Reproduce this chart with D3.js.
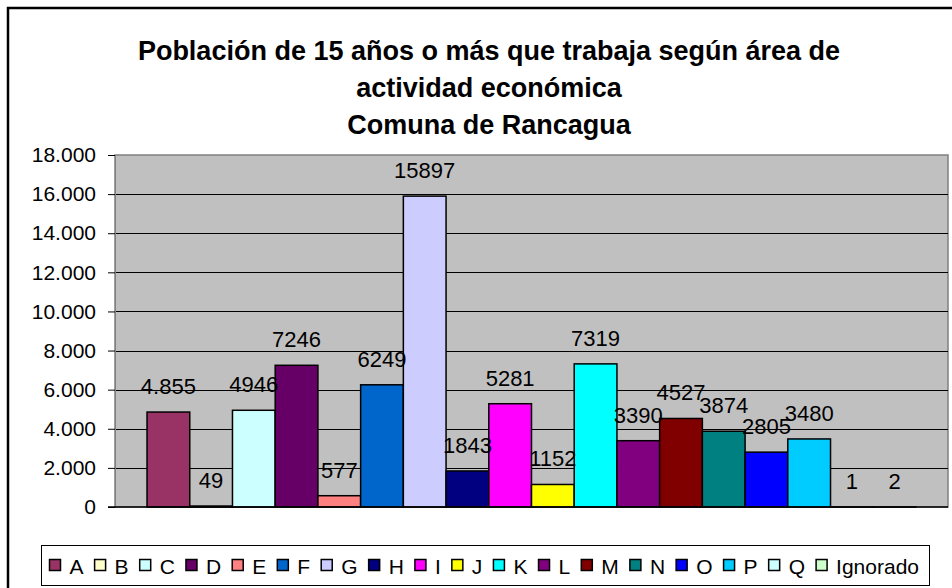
<!DOCTYPE html>
<html>
<head>
<meta charset="utf-8">
<script src="https://cdn.jsdelivr.net/npm/d3@7"></script>
<style>
  body { margin: 0; background: #fff; }
  svg { display: block; font-family: "Liberation Sans", Arial, sans-serif; }
</style>
</head>
<body>
<svg class="chart" width="952" height="588"></svg>
<script>
// areas of economic activity (one bar each)
const areas = ["A", "B", "C", "D", "E", "F", "G", "H", "I", "J", "K", "L", "M", "N", "O", "P", "Q", "Ignorado"];
const workers = [4855, 49, 4946, 7246, 577, 6249, 15897, 1843, 5281, 1152, 7319, 3390, 4527, 3874, 2805, 3480, 1, 2];
const dataLabels = ["4.855", "49", "4946", "7246", "577", "6249", "15897", "1843", "5281", "1152", "7319", "3390", "4527", "3874", "2805", "3480", "1", "2"];
const areaColors = ["#993366", "#FFFFCC", "#CCFFFF", "#660066", "#FF8080", "#0066CC", "#CCCCFF", "#000080", "#FF00FF",
  "#FFFF00", "#00FFFF", "#800080", "#800000", "#008080", "#0000FF", "#00CCFF", "#CCFFFF", "#CCFFCC"];
const yTicks = [0, 2000, 4000, 6000, 8000, 10000, 12000, 14000, 16000, 18000];
const titleLines = ["Población de 15 años o más que trabaja según área de", "actividad económica", "Comuna de Rancagua"];

const svg = d3.select("svg.chart");
const plot = { left: 115, right: 948, top: 155, bottom: 507 };

const esCL = d3.formatLocale({ decimal: ",", thousands: ".", grouping: [3], currency: ["$", ""] });
const tickFormat = esCL.format(",d");

const x = d3.scaleBand().domain(areas).range([plot.left, plot.right]).paddingInner(0).paddingOuter(0.75);
const y = d3.scaleLinear().domain([0, 18000]).range([plot.bottom, plot.top]);

// outer chart frame (right and bottom run off the picture)
svg.append("path")
  .attr("d", "M8,600 V8 H960")
  .attr("fill", "none")
  .attr("stroke", "#000")
  .attr("stroke-width", 2.5);

// title
svg.append("g")
  .selectAll("text")
  .data(titleLines)
  .enter()
  .append("text")
  .attr("x", 489)
  .attr("y", (d, i) => 60 + i * 37)
  .attr("text-anchor", "middle")
  .attr("font-size", 27)
  .attr("font-weight", "bold")
  .text((d) => d);

// plot background
svg.append("rect")
  .attr("x", plot.left)
  .attr("y", plot.top)
  .attr("width", plot.right - plot.left)
  .attr("height", plot.bottom - plot.top)
  .attr("fill", "#C0C0C0")
  .attr("stroke", "#808080")
  .attr("stroke-width", 1.5);

// gridlines
svg.append("g")
  .selectAll("line")
  .data(yTicks.filter((t) => t > 0 && t < 18000))
  .enter()
  .append("line")
  .attr("x1", plot.left)
  .attr("x2", plot.right)
  .attr("y1", (d) => Math.round(y(d)) + 0.5)
  .attr("y2", (d) => Math.round(y(d)) + 0.5)
  .attr("stroke", "#000")
  .attr("stroke-width", 1);

// y axis
const yAxis = svg.append("g")
  .attr("transform", `translate(${plot.left},0)`)
  .call(d3.axisLeft(y).tickValues(yTicks).tickFormat(tickFormat).tickSizeOuter(0).tickSize(7).tickPadding(12));
yAxis.select(".domain").attr("stroke", "#808080");
yAxis.selectAll(".tick line").attr("stroke", "#000");
yAxis.selectAll("text").attr("font-size", 21).attr("fill", "#000").attr("font-family", "Liberation Sans, Arial, sans-serif");

// bars
svg.append("g")
  .selectAll("rect")
  .data(workers)
  .enter()
  .append("rect")
  .attr("x", (d, i) => x(areas[i]))
  .attr("y", (d) => y(d))
  .attr("width", x.bandwidth())
  .attr("height", (d) => plot.bottom - y(d))
  .attr("fill", (d, i) => areaColors[i])
  .attr("stroke", "#000")
  .attr("stroke-width", 1.5);

// x axis line
svg.append("line")
  .attr("x1", plot.left - 7)
  .attr("x2", plot.right)
  .attr("y1", plot.bottom)
  .attr("y2", plot.bottom)
  .attr("stroke", "#000")
  .attr("stroke-width", 1.5);

// value labels
svg.append("g")
  .selectAll("text")
  .data(workers)
  .enter()
  .append("text")
  .attr("x", (d, i) => x(areas[i]) + x.bandwidth() / 2)
  .attr("y", (d) => y(d) - 18)
  .attr("text-anchor", "middle")
  .attr("font-size", 22)
  .text((d, i) => dataLabels[i]);

// legend
const legend = svg.append("g");
legend.append("rect")
  .attr("x", 41.5)
  .attr("y", 545.5)
  .attr("width", 888)
  .attr("height", 40)
  .attr("fill", "#fff")
  .attr("stroke", "#000")
  .attr("stroke-width", 1);

const items = legend.selectAll("g").data(areas).enter().append("g");
items.append("text")
  .attr("y", 574)
  .attr("font-size", 21)
  .text((d) => d);

const widths = [];
items.select("text").each(function () { widths.push(this.getComputedTextLength()); });
const startX = 49.5;
const endX = 919;
const swatchW = 20;
const gap = (endX - startX - d3.sum(widths) - swatchW * areas.length) / (areas.length - 1);
let cursor = startX;
items.each(function (d, i) {
  d3.select(this).attr("transform", `translate(${cursor},0)`);
  cursor += swatchW + widths[i] + gap;
});
items.select("text").attr("x", swatchW);
items.append("rect")
  .attr("x", 0)
  .attr("y", 559.5)
  .attr("width", 11)
  .attr("height", 11)
  .attr("fill", (d, i) => areaColors[i])
  .attr("stroke", "#000")
  .attr("stroke-width", 1.5);
</script>
</body>
</html>
